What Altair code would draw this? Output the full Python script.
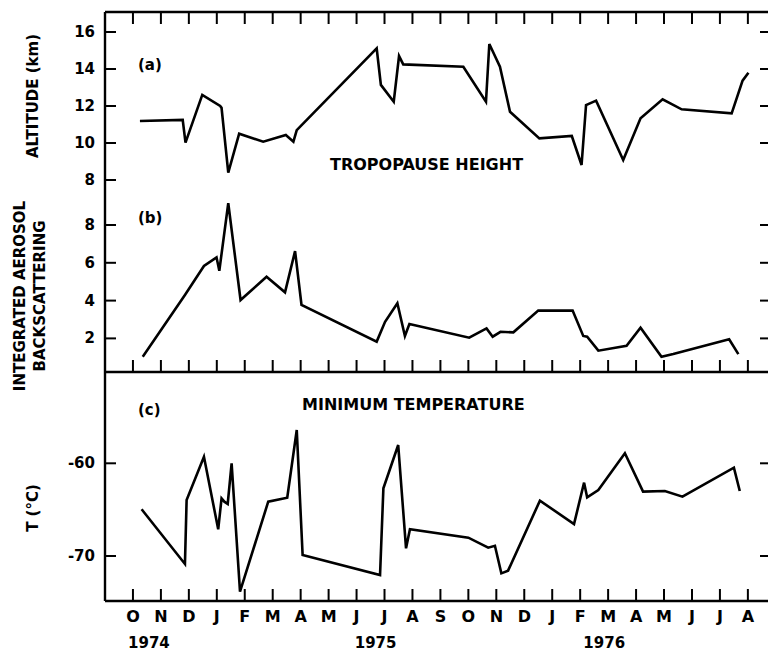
import altair as alt
import pandas as pd

# ---------------- data (month index: 0 = Oct 1974) ----------------
month_letters = ["O", "N", "D", "J", "F", "M", "A", "M", "J", "J", "A", "S",
                 "O", "N", "D", "J", "F", "M", "A", "M", "J", "J", "A"]
month_ticks = list(range(len(month_letters)))

years = ["1974", "1975", "1976"]
year_pos = [0.57, 8.68, 16.86]

# (a) tropopause height, km
alt_m = [0.25, 1.78, 1.88, 2.48, 3.12, 3.17, 3.41, 3.80, 4.66, 5.47, 5.74, 5.86,
         8.72, 8.87, 9.33, 9.52, 9.67, 11.82, 12.63, 12.75, 13.13, 13.49, 14.54,
         15.70, 16.05, 16.21, 16.57, 17.54, 18.16, 18.95, 19.63, 21.42, 21.81, 22.02]
alt_v = [11.19, 11.25, 10.02, 12.6, 12.0, 11.9, 8.4, 10.5, 10.07, 10.43, 10.07, 10.7,
         15.12, 13.14, 12.23, 14.7, 14.25, 14.12, 12.23, 15.35, 14.12, 11.69, 10.25,
         10.38, 8.81, 12.05, 12.29, 9.08, 11.34, 12.36, 11.82, 11.6, 13.37, 13.8]

# (b) integrated aerosol backscattering
aer_m = [0.35, 1.86, 2.54, 2.99, 3.09, 3.41, 3.85, 4.78, 5.44, 5.80, 6.03, 8.72,
         9.02, 9.46, 9.73, 9.89, 12.03, 12.65, 12.87, 13.15, 13.61, 14.50, 15.73,
         16.11, 16.25, 16.65, 17.66, 18.16, 18.91, 19.33, 21.33, 21.66]
aer_v = [1.03, 4.30, 5.83, 6.29, 5.58, 9.15, 4.03, 5.26, 4.44, 6.62, 3.77, 1.83,
         2.88, 3.86, 2.13, 2.76, 2.04, 2.53, 2.09, 2.35, 2.32, 3.47, 3.47,
         2.13, 2.09, 1.35, 1.61, 2.57, 1.03, 1.17, 1.95, 1.17]

# (c) minimum temperature, deg C
tmp_m = [0.31, 1.86, 1.92, 2.54, 3.05, 3.17, 3.27, 3.39, 3.53, 3.83, 4.84, 5.52,
         5.86, 6.07, 8.84, 8.96, 9.49, 9.77, 9.91, 12.00, 12.71, 12.95, 13.18,
         13.42, 14.56, 15.78, 16.14, 16.25, 16.65, 17.60, 18.25, 19.03, 19.66,
         21.50, 21.71]
tmp_v = [-64.96, -70.86, -63.96, -59.29, -67.12, -63.78, -64.14, -64.39, -60.0,
         -73.85, -64.14, -63.71, -56.41, -69.89, -72.05, -62.7, -58.03, -69.17,
         -67.12, -68.02, -69.1, -68.9, -71.87, -71.58, -64.03, -66.55, -62.09,
         -63.67, -62.88, -58.92, -63.06, -62.99, -63.6, -60.47, -62.99]

a_ticks_left = [8, 10, 12, 14, 16]
a_ticks_right = [10, 12, 14, 16]
b_ticks = [2, 4, 6, 8]
c_ticks = [-70, -60]

# ---------------- layout ----------------
W, H = 663, 589          # plot area (x 105..768, y 12..601)
TOP = 12
SEP = 360                # separator between (b) and (c), plot coords
FONT = "DejaVu Sans"
LW = 2.6

xscale = alt.Scale(domain=[-1.0, 22.72], nice=False, zero=False)


def yscale(v_ref, y_ref_abs, ppu):
    top = v_ref + (y_ref_abs - TOP) / ppu
    bot = v_ref - (TOP + H - y_ref_abs) / ppu
    return alt.Scale(domain=[bot, top], nice=False, zero=False)


sa = yscale(16, 32, 18.5)
sb = yscale(8, 225, 18.9)
sc = yscale(-60, 463.3, 9.27)

X = alt.X("m:Q", scale=xscale, axis=None)


def Y(s):
    return alt.Y("v:Q", scale=s, axis=None)


layers = []

# frame
one = alt.Data(values=[{"k": 1}])
for y0 in [0, H, SEP]:
    layers.append(alt.Chart(one).mark_rule(color="black", strokeWidth=2.4).encode(
        x=alt.value(0), x2=alt.value(W), y=alt.value(y0)))
layers.append(alt.Chart(one).mark_rule(color="black", strokeWidth=2.4).encode(
    x=alt.value(0), y=alt.value(0), y2=alt.value(H)))

# month ticks
mdf = pd.DataFrame({"m": month_ticks, "lab": month_letters})
for (y0, y1) in [(0, 12), (SEP - 12, SEP), (H - 12, H)]:
    layers.append(alt.Chart(mdf).mark_rule(color="black", strokeWidth=2).encode(
        x=X, y=alt.value(y0), y2=alt.value(y1)))

# month labels and years
layers.append(alt.Chart(mdf).mark_text(font=FONT, fontSize=16, fontWeight="bold",
                                       baseline="middle", align="center").encode(
    x=X, y=alt.value(H + 16), text="lab:N"))
ydf = pd.DataFrame({"m": year_pos, "lab": years})
layers.append(alt.Chart(ydf).mark_text(font=FONT, fontSize=15, fontWeight="bold",
                                       baseline="middle", align="center").encode(
    x=X, y=alt.value(H + 42), text="lab:N"))


def yticks(vals, s, left=True, right=True, labels=True):
    df = pd.DataFrame({"v": vals, "lab": [str(v) for v in vals]})
    out = []
    if left:
        out.append(alt.Chart(df).mark_rule(color="black", strokeWidth=2).encode(
            y=Y(s), x=alt.value(0), x2=alt.value(11)))
    if right:
        out.append(alt.Chart(df).mark_rule(color="black", strokeWidth=2).encode(
            y=Y(s), x=alt.value(W - 8), x2=alt.value(W)))
    if labels:
        out.append(alt.Chart(df).mark_text(font=FONT, fontSize=15, fontWeight="bold",
                                           align="right", baseline="middle").encode(
            y=Y(s), x=alt.value(-10), text="lab:N"))
    return out


layers += yticks(a_ticks_left, sa, right=False)
layers += yticks(a_ticks_right, sa, left=False, labels=False)
layers += yticks(b_ticks, sb)
layers += yticks(c_ticks, sc)

# series
for mm, vv, s in [(alt_m, alt_v, sa), (aer_m, aer_v, sb), (tmp_m, tmp_v, sc)]:
    df = pd.DataFrame({"m": mm, "v": vv})
    layers.append(alt.Chart(df).mark_line(color="black", strokeWidth=LW,
                                          strokeJoin="miter").encode(x=X, y=Y(s)))


# annotations
def txt(t, x, y, size=16, angle=0, align="left"):
    return alt.Chart(alt.Data(values=[{"t": t}])).mark_text(
        font=FONT, fontSize=size, fontWeight="bold", align=align,
        baseline="middle", angle=angle).encode(
        x=alt.value(x), y=alt.value(y), text="t:N")


layers += [
    txt("(a)", 33, 53, 15),
    txt("(b)", 33, 206, 15),
    txt("(c)", 33, 398, 15),
    txt("TROPOPAUSE HEIGHT", 225, 153, 16),
    txt("MINIMUM TEMPERATURE", 197, 393, 16),
    txt("ALTITUDE (km)", -72, 84, 15, angle=270, align="center"),
    txt("INTEGRATED AEROSOL", -85, 284, 15, angle=270, align="center"),
    txt("BACKSCATTERING", -65, 284, 15, angle=270, align="center"),
    txt("T (°C)", -72, 496, 15, angle=270, align="center"),
]

chart = alt.layer(*layers).resolve_scale(y="independent").properties(
    width=W, height=H,
    autosize=alt.AutoSizeParams(type="none"),
    padding={"left": 105, "top": TOP, "right": 0, "bottom": 50},
    background="white",
).configure_view(stroke="transparent")

chart.save("out.html", embed_options={"renderer": "svg", "actions": False})
